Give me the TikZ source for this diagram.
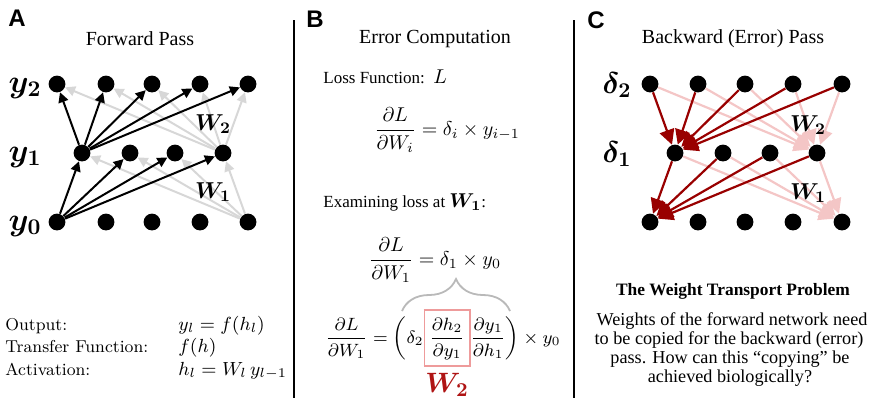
\documentclass[tikz,border=0pt]{standalone}
\usepackage{fix-cm}
\usepackage{amsmath}
\usepackage{fontspec}
\newfontfamily\tmsfont{Liberation Serif}
\newfontfamily\helvfont{Liberation Sans}
\usetikzlibrary{arrows.meta,decorations.pathreplacing}
\definecolor{lgray}{RGB}{215,215,215}
\definecolor{bracegray}{RGB}{185,185,185}
\definecolor{dred}{RGB}{153,0,0}
\definecolor{lpink}{RGB}{244,198,198}
\definecolor{boxred}{RGB}{238,155,155}
\definecolor{wred}{RGB}{175,20,20}
\setlength{\fboxsep}{2.2pt}
\setlength{\fboxrule}{0.7pt}
\begin{document}
\begin{tikzpicture}[x=0.5pt,y=-0.5pt,
  dot/.style={circle,fill=black,inner sep=0pt,minimum size=8.4pt},
  fwd/.style={line width=1pt,-{Triangle[length=5pt,width=5pt]}},
  fwdblack/.style={fwd,black},
  fwdgray/.style={fwd,lgray},
  bwd/.style={line width=1.1pt,-{Triangle[length=7.5pt,width=7.5pt]}},
  bwdred/.style={bwd,dred},
  bwdpink/.style={bwd,lpink},
  paneltag/.style={font=\helvfont\bfseries\fontsize{12}{14}\selectfont,inner sep=0pt},
  paneltitle/.style={font=\tmsfont\fontsize{10}{12}\selectfont,inner sep=0pt},
  layerlab/.style={anchor=base,inner sep=0pt,font=\fontsize{16}{18}\selectfont},
  deltalab/.style={anchor=base,inner sep=0pt,font=\fontsize{15}{17}\selectfont},
  wlab/.style={inner sep=0pt,font=\fontsize{11.5}{13}\selectfont},
  deftext/.style={anchor=base west,inner sep=0pt,font=\fontsize{8.6}{10}\selectfont},
  defmath/.style={anchor=base west,inner sep=0pt,font=\fontsize{9.5}{11}\selectfont},
  btext/.style={anchor=base west,inner sep=0pt,font=\tmsfont\fontsize{8.5}{10}\selectfont},
  eqn/.style={inner sep=0pt,font=\fontsize{10}{12}\selectfont},
  eqnsmall/.style={inner sep=0pt,font=\fontsize{8.9}{11}\selectfont},
  ctext/.style={anchor=base,inner sep=0pt,font=\tmsfont\fontsize{9.1}{11}\selectfont},
  divider/.style={line width=0.9pt,black}
]
\useasboundingbox (0,0) rectangle (870,398);

% ---------------- Panel A ----------------
\node[paneltag] (tagA) at (17,18) {A};
\node[paneltitle] (titleA) at (140,39) {Forward Pass};

\foreach \i/\x in {1/57,2/106,3/152,4/200,5/248} {
  \node[dot] (a2\i) at (\x,84) {};
  \node[dot] (a0\i) at (\x,222) {};
}
\foreach \i/\x in {1/82,2/130,3/175,4/223}
  \node[dot] (a1\i) at (\x,153) {};

\foreach \i in {1,...,5} \draw[fwdgray] (a14) -- (a2\i);
\foreach \i in {1,...,4} \draw[fwdgray] (a05) -- (a1\i);
\foreach \i in {1,...,5} \draw[fwdblack] (a11) -- (a2\i);
\foreach \i in {1,...,4} \draw[fwdblack] (a01) -- (a1\i);

\node[layerlab] (ly2) at (25,92) {$\boldsymbol{y_2}$};
\node[layerlab] (ly1) at (25,161) {$\boldsymbol{y_1}$};
\node[layerlab] (ly0) at (25,230) {$\boldsymbol{y_0}$};
\node[wlab] (aw2) at (213,124) {$\boldsymbol{W_2}$};
\node[wlab] (aw1) at (213,192) {$\boldsymbol{W_1}$};

\node[deftext] (d1) at (5,330) {Output:};
\node[deftext] (d2) at (5,352.5) {Transfer Function:};
\node[deftext] (d3) at (5,375) {Activation:};
\node[defmath] (m1) at (178,330) {$y_l = f(h_l)$};
\node[defmath] (m2) at (178,352.5) {$f(h)$};
\node[defmath] (m3) at (178,375) {$h_l = W_l\, y_{l-1}$};

% dividers
\coordinate (dv1t) at (294,20);
\coordinate (dv1b) at (294,398);
\coordinate (dv2t) at (574,20);
\coordinate (dv2b) at (574,398);
\draw[divider] (dv1t) -- (dv1b);
\draw[divider] (dv2t) -- (dv2b);

% ---------------- Panel B ----------------
\node[paneltag] (tagB) at (315,19) {B};
\node[paneltitle] (titleB) at (435,39) {Error Computation};
\node[btext] (loss) at (323,83) {Loss Function: \,{\fontsize{10}{12}\selectfont$L$}};
\node[eqn] (eq1) at (447,130) {$\dfrac{\partial L}{\partial W_i} = \delta_i \times y_{i-1}$};
\node[btext] (exam) at (323,207) {Examining loss at {\fontsize{10}{12}\selectfont$\boldsymbol{W_1}$}:};
\node[eqn] (eq2) at (435,260) {$\dfrac{\partial L}{\partial W_1} = \delta_1 \times y_0$};
\coordinate (brL) at (402,311);
\coordinate (brR) at (510,311);
\draw[bracegray,line width=0.9pt,decorate,decoration={brace,amplitude=16pt}] (brL) -- (brR);
\node[eqnsmall] (eq3) at (443,338) {$\dfrac{\partial L}{\partial W_1} = \biggl(\delta_2\fcolorbox{boxred}{white}{$\rule[-9pt]{0pt}{23pt}\dfrac{\partial h_2}{\partial y_1}$}\dfrac{\partial y_1}{\partial h_1}\biggr)\times y_0$};
\node[inner sep=0pt,font=\fontsize{14}{16}\selectfont,text=wred] (bw2) at (447,385) {$\boldsymbol{W_2}$};

% ---------------- Panel C ----------------
\node[paneltag] (tagC) at (596,20) {C};
\node[paneltitle] (titleC) at (733,39) {Backward (Error) Pass};

\foreach \i/\x in {1/650,2/698,3/745,4/793,5/842} {
  \node[dot] (c2\i) at (\x,84) {};
  \node[dot] (c0\i) at (\x,222) {};
}
\foreach \i/\x in {1/675,2/723,3/770,4/817}
  \node[dot] (c1\i) at (\x,153) {};

\foreach \i in {1,...,5} \draw[bwdpink] (c2\i) -- (c14);
\foreach \i in {1,...,4} \draw[bwdpink] (c1\i) -- (c05);
\foreach \i in {1,...,5} \draw[bwdred] (c2\i) -- (c11);
\foreach \i in {1,...,4} \draw[bwdred] (c1\i) -- (c01);

\node[deltalab] (ld2) at (617,93) {$\boldsymbol{\delta_2}$};
\node[deltalab] (ld1) at (617,162) {$\boldsymbol{\delta_1}$};
\node[wlab] (cw2) at (808,125) {$\boldsymbol{W_2}$};
\node[wlab] (cw1) at (808,193) {$\boldsymbol{W_1}$};

\node[anchor=base,inner sep=0pt,font=\tmsfont\bfseries\fontsize{8.7}{10}\selectfont] (wtp) at (733,295) {The Weight Transport Problem};
\node[ctext] (p1) at (732,325) {Weights of the forward network need};
\node[ctext] (p2) at (729,344) {to be copied for the backward (error)};
\node[ctext] (p3) at (730,363) {pass. How can this “copying” be};
\node[ctext] (p4) at (730,382) {achieved biologically?};
\end{tikzpicture}
\end{document}
